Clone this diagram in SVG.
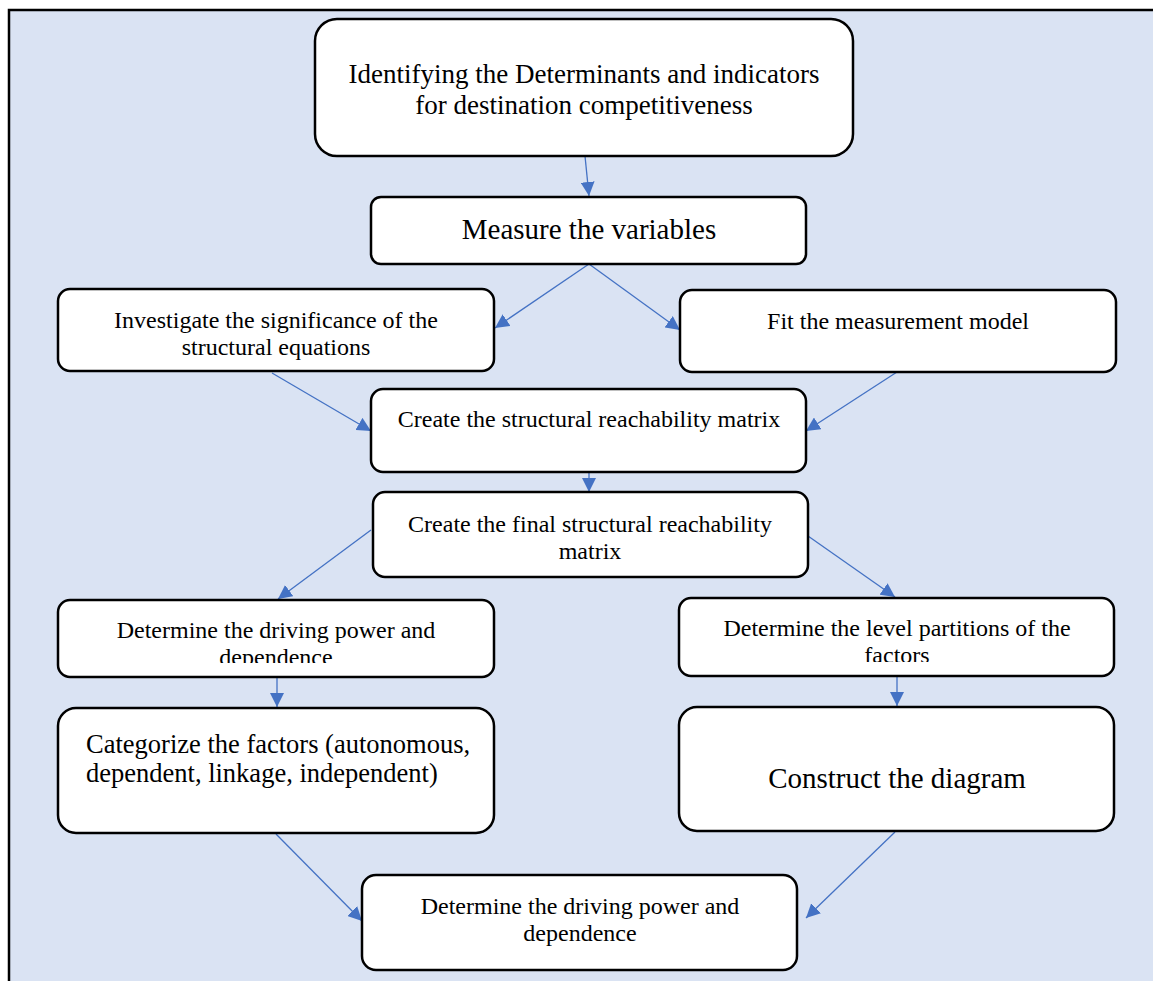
<svg xmlns="http://www.w3.org/2000/svg" width="1153" height="981" viewBox="0 0 1153 981">
<defs>
<style>
.box{fill:#fff;stroke:#000;stroke-width:2.5}
.t{font-family:"Liberation Serif","Times New Roman",serif;fill:#000;text-anchor:middle}
.s{font-size:24px}
.c{stroke:#4472c4;stroke-width:1.3;fill:none;marker-end:url(#ah)}
</style>
<marker id="ah" viewBox="0 0 10 10" refX="10" refY="5" markerWidth="14" markerHeight="14" markerUnits="userSpaceOnUse" orient="auto">
<path d="M0,0 L10,5 L0,10 z" fill="#4472c4"/>
</marker>
<clipPath id="cl1"><rect x="58" y="600" width="436" height="63"/></clipPath>
<clipPath id="cl2"><rect x="679" y="598" width="436" height="64"/></clipPath>
</defs>
<rect x="9" y="10" width="1150" height="980" fill="#dae3f3" stroke="#000" stroke-width="2.5"/>
<g id="connectors">
<line class="c" x1="585" y1="156" x2="589" y2="196"/>
<line class="c" x1="589" y1="264" x2="495" y2="328"/>
<line class="c" x1="589" y1="264" x2="680" y2="330"/>
<line class="c" x1="272" y1="373" x2="371" y2="431"/>
<line class="c" x1="897" y1="372" x2="806" y2="431"/>
<line class="c" x1="589" y1="472" x2="589" y2="492"/>
<line class="c" x1="371" y1="530" x2="278" y2="599"/>
<line class="c" x1="808" y1="536" x2="895" y2="597"/>
<line class="c" x1="277" y1="678" x2="277" y2="707"/>
<line class="c" x1="897" y1="677" x2="897" y2="706"/>
<line class="c" x1="276" y1="834" x2="362" y2="921"/>
<line class="c" x1="895" y1="832" x2="806" y2="918"/>
</g>
<g id="n1"><rect class="box" x="315" y="19" width="538" height="137" rx="22"/>
<text class="t" font-size="27"><tspan x="584" y="83">Identifying the Determinants and indicators</tspan><tspan x="584" y="114">for destination competitiveness</tspan></text></g>
<g id="n2"><rect class="box" x="371" y="197" width="435" height="67" rx="10"/>
<text class="t" font-size="29" x="589" y="239">Measure the variables</text></g>
<g id="n3"><rect class="box" x="58" y="289" width="436" height="82" rx="12"/>
<text class="t s"><tspan x="276" y="328">Investigate the significance of the</tspan><tspan x="276" y="355">structural equations</tspan></text></g>
<g id="n4"><rect class="box" x="680" y="290" width="436" height="82" rx="12"/>
<text class="t s" x="898" y="329">Fit the measurement model</text></g>
<g id="n5"><rect class="box" x="371" y="389" width="435" height="83" rx="12"/>
<text class="t s" x="589" y="427">Create the structural reachability matrix</text></g>
<g id="n6"><rect class="box" x="373" y="492" width="435" height="85" rx="12"/>
<text class="t s"><tspan x="590" y="532">Create the final structural reachability</tspan><tspan x="590" y="559">matrix</tspan></text></g>
<g id="n7"><rect class="box" x="58" y="600" width="436" height="77" rx="12"/>
<text class="t s" clip-path="url(#cl1)"><tspan x="276" y="638">Determine the driving power and</tspan><tspan x="276" y="665">dependence</tspan></text></g>
<g id="n8"><rect class="box" x="679" y="598" width="435" height="78" rx="12"/>
<text class="t s" clip-path="url(#cl2)"><tspan x="897" y="636">Determine the level partitions of the</tspan><tspan x="897" y="663">factors</tspan></text></g>
<g id="n9"><rect class="box" x="58" y="708" width="436" height="125" rx="18"/>
<text class="t" font-size="26.5" style="text-anchor:start"><tspan x="86" y="753">Categorize the factors (autonomous,</tspan><tspan x="86" y="782">dependent, linkage, independent)</tspan></text></g>
<g id="n10"><rect class="box" x="679" y="707" width="435" height="124" rx="18"/>
<text class="t" font-size="29" x="897" y="788">Construct the diagram</text></g>
<g id="n11"><rect class="box" x="362" y="875" width="435" height="95" rx="14"/>
<text class="t s"><tspan x="580" y="914">Determine the driving power and</tspan><tspan x="580" y="941">dependence</tspan></text></g>
</svg>
